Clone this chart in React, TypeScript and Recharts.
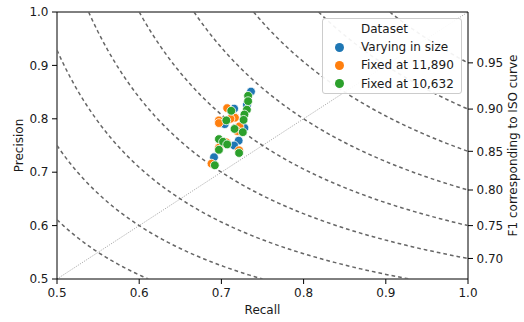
import React from "react";
import {
  ScatterChart,
  Scatter,
  XAxis,
  YAxis,
  ReferenceLine,
  Legend,
} from "recharts";

// axis ticks
const recallTicks = [0.5, 0.6, 0.7, 0.8, 0.9, 1.0];
const precisionTicks = [0.5, 0.6, 0.7, 0.8, 0.9, 1.0];

// iso-F1 curves and the F1 values labelled on the right axis
const isoF1Values = [0.55, 0.6, 0.65, 0.7, 0.75, 0.8, 0.85, 0.9, 0.95];
const f1AxisTicks = [0.7, 0.75, 0.8, 0.85, 0.9, 0.95];

// dataset: varying in size
const varyingRecall = [0.736, 0.731, 0.7155, 0.704, 0.728, 0.721, 0.7155, 0.691];
const varyingPrecision = [0.851, 0.826, 0.819, 0.79, 0.783, 0.759, 0.75, 0.728];

// dataset: fixed at 11,890
const fixed11890Recall = [0.707, 0.697, 0.697, 0.7165, 0.711, 0.722, 0.7195, 0.697, 0.706, 0.7215, 0.688];
const fixed11890Precision = [0.82, 0.797, 0.792, 0.802, 0.8, 0.786, 0.777, 0.746, 0.756, 0.741, 0.716];

// dataset: fixed at 10,632
const fixed10632Recall = [0.7325, 0.7325, 0.731, 0.728, 0.727, 0.712, 0.706, 0.716, 0.726, 0.697, 0.702, 0.707, 0.697, 0.7215, 0.692];
const fixed10632Precision = [0.843, 0.833, 0.817, 0.808, 0.798, 0.815, 0.797, 0.781, 0.775, 0.762, 0.757, 0.752, 0.742, 0.736, 0.713];

const seriesNames = ["Varying in size", "Fixed at 11,890", "Fixed at 10,632"];
const seriesColors = ["#1f77b4", "#ff7f0e", "#2ca02c"];

const zip = (r: number[], p: number[]) => r.map((v, i) => ({ r: v, p: p[i] }));

const series = [
  zip(varyingRecall, varyingPrecision),
  zip(fixed11890Recall, fixed11890Precision),
  zip(fixed10632Recall, fixed10632Precision),
];

// precision on an iso-F1 curve for a given recall, clipped to the 0.5..1 box
const isoCurve = (f: number) => {
  const rMin = Math.max(0.5, f / (2 - f));
  const rMax = Math.min(1, (0.5 * f) / (1 - f));
  const pts = [];
  const n = 80;
  for (let i = 0; i <= n; i++) {
    const r = rMin + ((rMax - rMin) * i) / n;
    pts.push({ r, p: (f * r) / (2 * r - f) });
  }
  return pts;
};

// F1 curve meets recall = 1 at precision f / (2 - f)
const f1ToPrecision = (f: number) => f / (2 - f);
const precisionToF1 = (p: number) => (2 * p) / (1 + p);

const FONT = "'DejaVu Sans', sans-serif";
const TEXT = "#1a1a1a";

const Dot = (color: string) => (props: any) => (
  <circle cx={props.cx} cy={props.cy} r={4.4} fill={color} stroke="#fff" strokeWidth={0.8} />
);

const NoDot = () => <g />;

const BottomTitle = (props: any) => {
  const vb = props.viewBox;
  return (
    <text x={vb.x + vb.width / 2} y={vb.y + 35} textAnchor="middle" fill={TEXT} fontSize={12} fontFamily={FONT}>
      Recall
    </text>
  );
};

const SideTitle = (props: any) => {
  const vb = props.viewBox;
  const x = vb.x + props.dx;
  const y = vb.y + vb.height / 2;
  return (
    <text
      x={x}
      y={y}
      transform={`rotate(-90 ${x} ${y})`}
      textAnchor="middle"
      fill={TEXT}
      fontSize={12}
      fontFamily={FONT}
    >
      {props.text}
    </text>
  );
};

const LegendBox = () => (
  <div
    style={{
      position: "relative",
      width: 140,
      height: 76,
      boxSizing: "border-box",
      border: "1px solid #cccccc",
      borderRadius: 3,
      background: "rgba(255,255,255,0.92)",
      fontFamily: FONT,
      fontSize: 12,
      color: TEXT,
    }}
  >
    <span style={{ position: "absolute", left: 38, top: 2, lineHeight: "16px", whiteSpace: "nowrap" }}>Dataset</span>
    {seriesNames.map((name, i) => (
      <React.Fragment key={name}>
        <span
          style={{
            position: "absolute",
            left: 11.5,
            top: 23.5 + i * 18.3,
            width: 9,
            height: 9,
            borderRadius: "50%",
            background: seriesColors[i],
          }}
        />
        <span
          style={{
            position: "absolute",
            left: 38,
            top: 20 + i * 18.3,
            lineHeight: "16px",
            whiteSpace: "nowrap",
          }}
        >
          {name}
        </span>
      </React.Fragment>
    ))}
  </div>
);

const tickStyle = { fill: TEXT, fontSize: 12, fontFamily: FONT };
const axisStroke = { stroke: "#000", strokeWidth: 1 };

export default function App() {
  return (
    <div style={{ position: "absolute", left: 0, top: 0, width: 524, height: 322, background: "#fff", fontFamily: FONT }}>
      <ScatterChart width={524} height={322} margin={{ top: 12, right: 0, bottom: 0, left: 0 }}>
        <XAxis
          type="number"
          dataKey="r"
          domain={[0.5, 1]}
          ticks={recallTicks}
          allowDataOverflow
          tickFormatter={(v: number) => v.toFixed(1)}
          tick={tickStyle}
          tickSize={5}
          tickMargin={4}
          axisLine={axisStroke}
          tickLine={axisStroke}
          height={43}
          label={<BottomTitle />}
        />
        <YAxis
          yAxisId="p"
          type="number"
          dataKey="p"
          domain={[0.5, 1]}
          ticks={precisionTicks}
          allowDataOverflow
          tickFormatter={(v: number) => v.toFixed(1)}
          tick={tickStyle}
          tickSize={5}
          tickMargin={3.5}
          axisLine={axisStroke}
          tickLine={axisStroke}
          width={57}
          label={<SideTitle text="Precision" dx={23} />}
        />
        <YAxis
          yAxisId="f1"
          orientation="right"
          type="number"
          dataKey="p"
          domain={[0.5, 1]}
          ticks={f1AxisTicks.map(f1ToPrecision)}
          allowDataOverflow
          tickFormatter={(v: number) => precisionToF1(v).toFixed(2)}
          tick={tickStyle}
          tickSize={5}
          tickMargin={3.5}
          axisLine={axisStroke}
          tickLine={axisStroke}
          width={56}
          label={<SideTitle text="F1 corresponding to ISO curve" dx={48.5} />}
        />

        {isoF1Values.map((f) => (
          <Scatter
            key={f}
            yAxisId="f1"
            data={isoCurve(f)}
            line={{ stroke: "#666666", strokeWidth: 1.5, strokeDasharray: "3.7 3" }}
            lineType="joint"
            shape={NoDot}
            legendType="none"
            isAnimationActive={false}
          />
        ))}

        <ReferenceLine
          yAxisId="p"
          segment={[
            { x: 0.5, y: 0.5 },
            { x: 1, y: 1 },
          ]}
          stroke="#8c8c8c"
          strokeWidth={0.8}
          strokeDasharray="1 1.3"
        />

        {series.map((pts, i) => (
          <Scatter
            key={seriesNames[i]}
            yAxisId="p"
            name={seriesNames[i]}
            data={pts}
            fill={seriesColors[i]}
            shape={Dot(seriesColors[i])}
            isAnimationActive={false}
          />
        ))}

        <ReferenceLine yAxisId="p" y={1} stroke="#000" strokeWidth={1} />

        <Legend
          layout="horizontal"
          verticalAlign="middle"
          align="center"
          wrapperStyle={{ left: 322, top: 18, width: 140, height: 76 }}
          content={() => <LegendBox />}
        />
      </ScatterChart>
    </div>
  );
}
